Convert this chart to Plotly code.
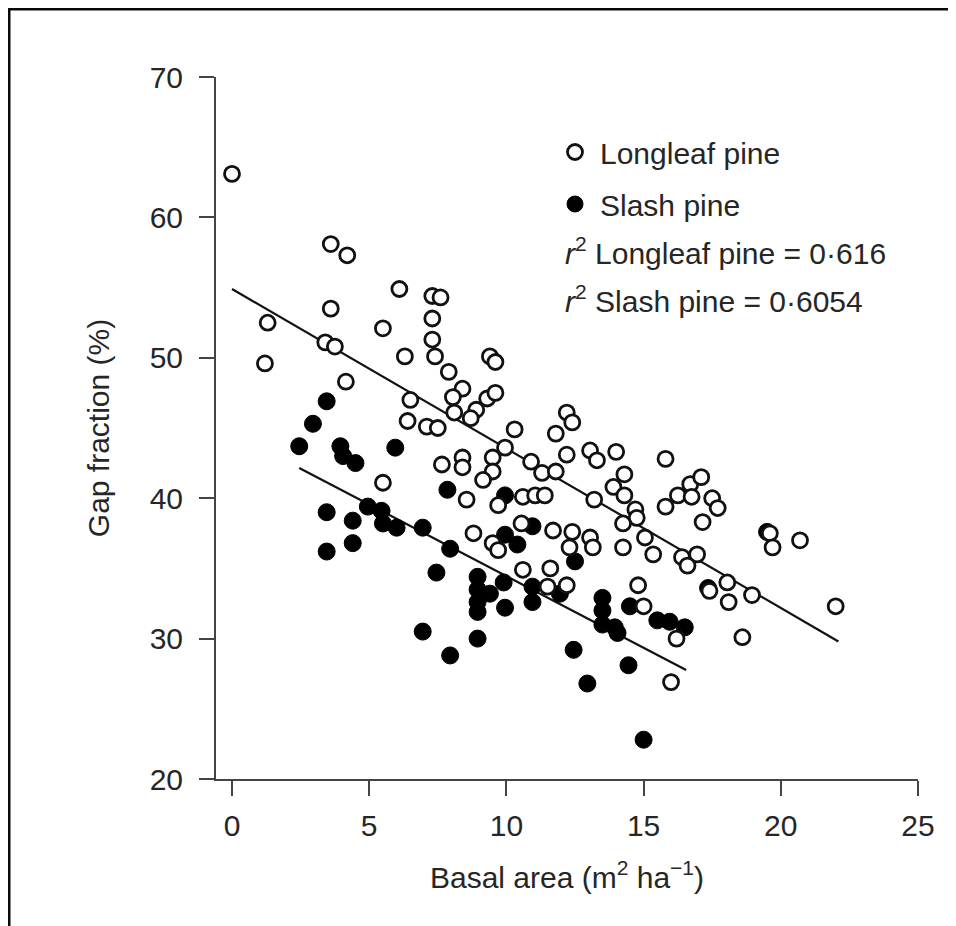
import plotly.graph_objects as go

# Longleaf pine (open circles): basal area (m2/ha), gap fraction (%)
longleaf_x = [0.0, 1.3, 1.2, 3.6, 4.2, 3.6, 3.4, 3.75, 4.15, 6.1, 5.5, 6.3, 7.3, 7.6, 7.3, 7.3, 7.4,
              7.9, 8.4, 8.05, 9.4, 9.6, 6.5, 6.4, 7.1, 7.5, 8.1, 8.9, 9.3, 9.6, 8.7, 10.3, 9.95,
              9.5, 9.5, 9.15, 7.65, 8.4, 8.4, 5.5, 8.55, 8.8, 11.8, 12.2, 12.4, 10.9, 11.3, 11.8,
              12.2, 13.05, 13.3, 14.0, 13.2, 13.9, 14.3, 14.3, 14.7, 14.75, 14.25, 15.8, 15.8,
              16.25, 16.7, 17.1, 16.75, 17.5, 17.7, 17.15, 15.05, 15.35, 16.4, 16.95, 16.6, 17.4,
              18.05, 18.1, 18.95, 19.6, 19.7, 20.7, 22.0, 18.6, 14.8, 15.0, 16.2, 16.0, 14.25,
              9.7, 10.6, 11.05, 11.4, 9.5, 9.7, 10.55, 11.7, 12.4, 12.3, 13.05, 13.15, 10.6,
              11.6, 11.5, 12.2]
longleaf_y = [63.1, 52.5, 49.6, 58.1, 57.3, 53.5, 51.1, 50.8, 48.3, 54.9, 52.1, 50.1, 54.4, 54.3,
              52.8, 51.3, 50.1, 49.0, 47.8, 47.2, 50.1, 49.7, 47.0, 45.5, 45.1, 45.0, 46.1, 46.3,
              47.1, 47.5, 45.7, 44.9, 43.6, 42.9, 41.9, 41.3, 42.4, 42.9, 42.2, 41.1, 39.9, 37.5,
              44.6, 46.1, 45.4, 42.6, 41.8, 41.9, 43.1, 43.4, 42.7, 43.3, 39.9, 40.8, 41.7, 40.2,
              39.2, 38.6, 38.2, 42.8, 39.4, 40.2, 41.0, 41.5, 40.1, 40.0, 39.3, 38.3, 37.2, 36.0,
              35.8, 36.0, 35.2, 33.4, 34.0, 32.6, 33.1, 37.5, 36.5, 37.0, 32.3, 30.1, 33.8, 32.3,
              30.0, 26.9, 36.5, 39.5, 40.1, 40.2, 40.2, 36.8, 36.3, 38.2, 37.7, 37.6, 36.5, 37.2,
              36.5, 34.9, 35.0, 33.7, 33.8]

# Slash pine (filled circles)
slash_x = [2.45, 2.95, 3.45, 3.95, 4.05, 4.5, 5.95, 7.85, 3.45, 4.4, 4.95, 5.45, 5.5, 6.0, 6.95,
           4.4, 3.45, 7.95, 7.45, 8.95, 8.95, 8.95, 8.95, 9.4, 9.9, 9.95, 10.95, 10.95, 9.95,
           10.4, 10.95, 6.95, 8.95, 7.95, 9.95, 12.5, 11.95, 13.5, 13.5, 13.5, 13.95, 14.05,
           14.5, 15.5, 15.95, 16.5, 12.45, 14.45, 12.95, 15.0, 19.5, 17.35]
slash_y = [43.7, 45.3, 46.9, 43.7, 43.0, 42.5, 43.6, 40.6, 39.0, 38.4, 39.4, 39.1, 38.2, 37.9,
           37.9, 36.8, 36.2, 36.4, 34.7, 34.4, 33.5, 32.6, 31.9, 33.2, 34.0, 32.2, 32.6, 33.7,
           37.4, 36.7, 38.0, 30.5, 30.0, 28.8, 40.2, 35.5, 33.2, 32.9, 32.0, 31.0, 30.8, 30.4,
           32.3, 31.3, 31.2, 30.8, 29.2, 28.1, 26.8, 22.8, 37.6, 33.6]

# Regression lines (intercept, slope, x extent)
longleaf_fit = {"a": 54.9, "b": -1.136, "x": [0.0, 22.1]}
slash_fit = {"a": 44.65, "b": -1.02, "x": [2.45, 16.55]}

r2_labels = ["<i>r</i><sup>2</sup> Longleaf pine = 0·616", "<i>r</i><sup>2</sup> Slash pine = 0·6054"]
x_ticks = [0, 5, 10, 15, 20, 25]
y_ticks = [20, 30, 40, 50, 60, 70]

FONT = "Liberation Sans, Arial, Helvetica, sans-serif"
TXT = "#262626"
FS = 30

fig = go.Figure()
for fit in (longleaf_fit, slash_fit):
    xs = fit["x"]
    fig.add_trace(go.Scatter(x=xs, y=[fit["a"] + fit["b"] * v for v in xs], mode="lines",
                             line=dict(color="#111111", width=2.2), showlegend=False,
                             hoverinfo="skip"))

fig.add_trace(go.Scatter(x=slash_x, y=slash_y, mode="markers", name="Slash pine", legendrank=2,
                         legendgroup="s",
                         marker=dict(symbol="circle", size=17, color="#000000",
                                     line=dict(color="#000000", width=1))))
fig.add_trace(go.Scatter(x=longleaf_x, y=longleaf_y, mode="markers", name="Longleaf pine",
                         legendrank=1, legendgroup="l",
                         marker=dict(symbol="circle", size=15, color="white",
                                     line=dict(color="#111111", width=2.8))))

# figure sits 8px in from the page corner; geometry below is in figure pixels
FW, FH = 948, 918
L, T, W, H = 208, 69, 702, 702
def px_x(p):
    return (p - L) / W
def px_y(p):
    return (T + H - p) / H

fig.add_shape(type="rect", xref="paper", yref="paper", layer="below",
              x0=px_x(0.5), x1=px_x(990), y0=px_y(990), y1=px_y(0.5),
              fillcolor="white", line=dict(color="#0a0a0a", width=4))

for i, lab in enumerate(r2_labels):
    fig.add_annotation(xref="paper", yref="paper", x=px_x(555), y=px_y(243 + 48 * i),
                       xanchor="left", yanchor="middle", text=lab, showarrow=False,
                       font=dict(family=FONT, size=FS, color=TXT))

fig.update_layout(
    width=FW, height=FH,
    margin=dict(l=L, r=FW - L - W, t=T, b=FH - T - H),
    paper_bgcolor="white", plot_bgcolor="white",
    font=dict(family=FONT, color=TXT),
    legend=dict(x=px_x(542), y=px_y(118), xanchor="left", yanchor="top",
                font=dict(family=FONT, size=FS, color=TXT), bgcolor="rgba(0,0,0,0)",
                tracegroupgap=10, traceorder="grouped", itemwidth=40),
    xaxis=dict(range=[-0.583, 25], tickvals=x_ticks, ticks="outside", ticklen=15, tickwidth=2,
               tickcolor="#444", showline=True, linecolor="#444", linewidth=2,
               showgrid=False, zeroline=False, ticklabelstandoff=4,
               tickfont=dict(family=FONT, size=FS, color=TXT),
               title=dict(text="Basal area (m<sup>2</sup> ha<sup>−1</sup>)",
                          font=dict(family=FONT, size=FS, color=TXT), standoff=26)),
    yaxis=dict(range=[20, 70], tickvals=y_ticks, ticks="outside", ticklen=15, tickwidth=2,
               tickcolor="#444", showline=True, linecolor="#444", linewidth=2,
               showgrid=False, zeroline=False, ticklabelstandoff=10,
               tickfont=dict(family=FONT, size=FS, color=TXT),
               title=dict(text="Gap fraction (%)",
                          font=dict(family=FONT, size=FS, color=TXT), standoff=31)),
)

fig.write_html("out.html")
